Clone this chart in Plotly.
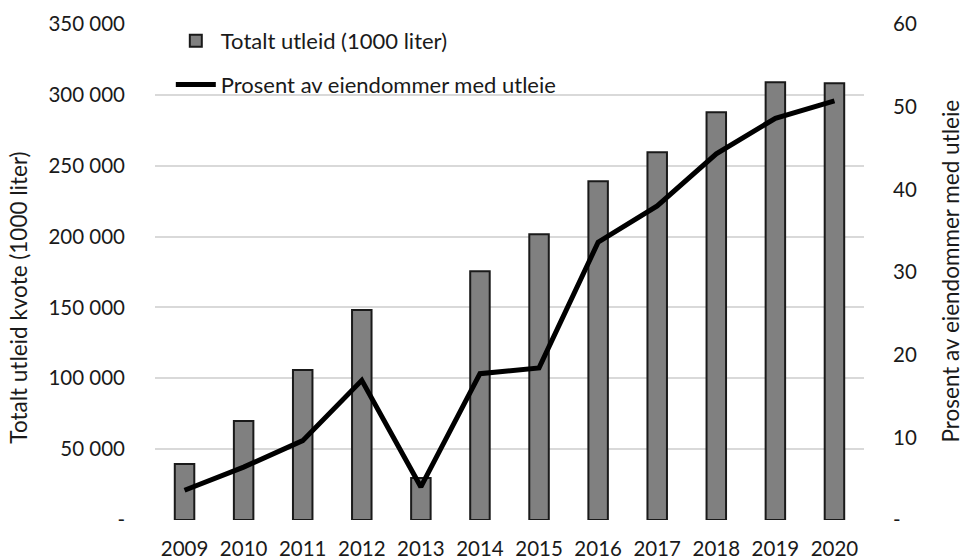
import plotly.graph_objects as go

years = ["2009", "2010", "2011", "2012", "2013", "2014", "2015", "2016", "2017", "2018", "2019", "2020"]
utleid = [39500, 69800, 105800, 148100, 29600, 175600, 201700, 239000, 259500, 287700, 308900, 308200]
prosent = [3.6, 6.4, 9.6, 16.9, 4.0, 17.7, 18.4, 33.6, 38.0, 44.3, 48.6, 50.7]

left_ticks = [0, 50000, 100000, 150000, 200000, 250000, 300000, 350000]
left_text = ["-", "50 000", "100 000", "150 000", "200 000", "250 000", "300 000", "350 000"]
right_ticks = [0, 10, 20, 30, 40, 50, 60]
right_text = ["-", "10", "20", "30", "40", "50", "60"]

FONT = "Lato, Open Sans, sans-serif"

fig = go.Figure()
fig.add_trace(go.Bar(
    x=years, y=utleid, name="Totalt utleid (1000 liter)", legendgroup="a",
    marker=dict(color="#808080", line=dict(color="#1a1a1a", width=2)),
    width=0.33, yaxis="y",
))
fig.add_trace(go.Scatter(
    x=years, y=prosent, name="Prosent av eiendommer med utleie", legendgroup="b",
    mode="lines", line=dict(color="black", width=5), yaxis="y2",
))

# axis titles as annotations so they can sit where the original has them
fig.add_annotation(text="Totalt utleid kvote (1000 liter)", xref="paper", yref="paper",
                   x=-0.192, y=0.448, textangle=-90, showarrow=False,
                   font=dict(size=22.5), xanchor="center", yanchor="middle")
fig.add_annotation(text="Prosent av eiendommer med utleie", xref="paper", yref="paper",
                   x=1.122, y=0.502, textangle=-90, showarrow=False,
                   font=dict(size=22.5), xanchor="center", yanchor="middle")

fig.update_layout(
    width=967, height=559,
    margin=dict(l=155, r=103, t=24, b=39),
    paper_bgcolor="white", plot_bgcolor="white",
    font=dict(family=FONT, size=20.5, color="#1a1a1a"),
    showlegend=True,
    legend=dict(
        x=0.0223, y=1.008, xanchor="left", yanchor="top",
        bgcolor="rgba(0,0,0,0)", font=dict(size=22),
        tracegroupgap=12, itemwidth=40,
    ),
    xaxis=dict(
        type="category", showgrid=False, showline=False, ticks="",
        ticklabelstandoff=14, automargin=False, tickfont=dict(size=20.5),
    ),
    yaxis=dict(
        range=[0, 350000], tickvals=left_ticks, ticktext=left_text,
        showgrid=True, gridcolor="#d9d9d9", gridwidth=1.5, zeroline=False,
        showline=False, ticklabelstandoff=29, automargin=False,
    ),
    yaxis2=dict(
        range=[0, 60], tickvals=right_ticks, ticktext=right_text,
        overlaying="y", side="right", showgrid=False, zeroline=False,
        showline=False, ticklabelstandoff=28, automargin=False,
    ),
)

fig.write_html("out.html", config={"displayModeBar": False},
               post_script="document.body.style.margin='0';")
